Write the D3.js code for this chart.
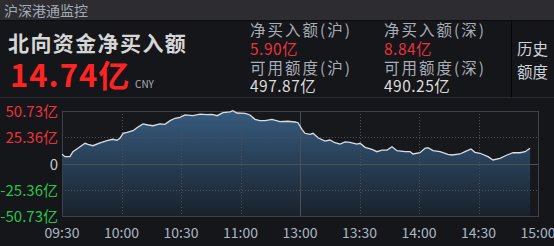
<!DOCTYPE html>
<html>
<head>
<meta charset="utf-8">
<script src="https://cdn.jsdelivr.net/npm/d3@7"></script>
<style>
  html, body { margin: 0; padding: 0; background: #15161a; overflow: hidden; }
  svg { display: block; }
  text { font-family: "Noto Sans CJK SC", "Noto Sans", sans-serif; }
</style>
</head>
<body>
<svg id="chart" width="554" height="246"></svg>
<script>
// 分钟序号（09:30 = 0，午休合并，13:00 = 120）
var minuteIdx = [0, 1.5, 4, 5.5, 8, 11.6, 13.1, 15.6, 19.2, 22.7, 25.7, 27.7, 29.2, 30.8, 32.8, 35.8, 37.8,
  40.8, 43.4, 45.9, 49.4, 51.9, 54.5, 57, 59.5, 62, 66, 69.6, 73.1, 75.6, 78.2, 81.2, 84.7, 86.2, 88.2,
  92.3, 94.8, 97.3, 99.8, 102.4, 105.9, 109.9, 113.9, 117.5, 119, 121, 122.5, 125, 126.6, 129.1, 132.6,
  135.1, 137.6, 140.2, 142.7, 145.2, 148.7, 150.3, 152.8, 156.3, 158.8, 161.3, 163.9, 166.4, 168.9,
  172.9, 175.5, 177, 180.5, 183, 184.5, 187.1, 190.6, 194.6, 196.6, 200.7, 203.2, 206.2, 208.2, 210.8,
  214.8, 217.3, 220.8, 224.4, 227.4, 230.9, 233.5, 236];
// 北向资金净买入（亿）
var netBuy = [8.9, 6.6, 6.6, 11.4, 14.7, 19.5, 18.5, 17.2, 20, 22, 23.4, 22.4, 24.3, 29.2, 30.1, 31.7, 34.6,
  38.2, 37.2, 36.5, 38.2, 37.9, 41.4, 43.7, 44.6, 46.9, 46.2, 47.8, 47.2, 47.5, 46.2, 49.1, 49.8, 51, 48.8,
  48.5, 46.9, 42.7, 41.4, 41.4, 42.7, 40.4, 40.8, 40.1, 39.4, 33, 29.2, 28.2, 29.2, 24.9, 21.7,
  22.7, 20.1, 18.8, 20.8, 20.5, 18.8, 19.5, 15.6, 13.7, 11.4, 13, 13, 16.2, 12.4,
  11.4, 11.4, 9.2, 10.4, 14.7, 15.3, 12.4, 11.4, 8.9, 8.2, 9.2, 11.4, 14, 10.8, 9.9,
  6.6, 3.4, 5, 8.2, 10.4, 10.4, 11.4, 14.74];

var timeTicks = ['09:30', '10:00', '10:30', '11:00', '13:00', '13:30', '14:00', '14:30', '15:00'];
var yTicks = [50.73, 25.36, 0, -25.36, -50.73];
var yLabels = ['50.73亿', '25.36亿', '0', '-25.36亿', '-50.73亿'];

var svg = d3.select('#chart');

// 顶部标题栏
svg.append('rect').attr('x', 0).attr('y', 0).attr('width', 554).attr('height', 20).attr('fill', '#2c2c31');
svg.append('line').attr('x1', 0).attr('x2', 554).attr('y1', 20.5).attr('y2', 20.5).attr('stroke', '#0c0c0e');
svg.append('text').attr('x', 4).attr('y', 16).attr('fill', '#a3abb4').attr('font-size', 14).text('沪深港通监控');

// 汇总信息
svg.append('text').attr('x', 8).attr('y', 51).attr('fill', '#d6d6d6').attr('font-size', 21)
  .attr('font-weight', 'bold').attr('letter-spacing', 1.4).text('北向资金净买入额');
svg.append('text').attr('x', 10).attr('y', 87).attr('fill', '#ff2424').attr('font-size', 31)
  .attr('font-weight', 'bold').attr('font-family', 'DejaVu Sans').attr('letter-spacing', 1).text('14.74亿');
svg.append('text').attr('x', 135).attr('y', 88).attr('fill', '#a8b0b8').attr('font-size', 10).text('CNY');

var info = [
  {x: 250, label: '净买入额(沪)', value: '5.90亿', sub: '可用额度(沪)', quota: '497.87亿'},
  {x: 384, label: '净买入额(深)', value: '8.84亿', sub: '可用额度(深)', quota: '490.25亿'}
];
info.forEach(function(d) {
  svg.append('text').attr('x', d.x).attr('y', 36).attr('fill', '#a8aeb5').attr('font-size', 15.5).attr('letter-spacing', 2).text(d.label);
  svg.append('text').attr('x', d.x).attr('y', 55).attr('fill', '#e8333b').attr('font-size', 15.5).attr('letter-spacing', 0.5).text(d.value);
  svg.append('text').attr('x', d.x).attr('y', 74).attr('fill', '#a8aeb5').attr('font-size', 15.5).attr('letter-spacing', 2).text(d.sub);
  svg.append('text').attr('x', d.x).attr('y', 92).attr('fill', '#dcdcdc').attr('font-size', 15.5).attr('letter-spacing', 0.5).text(d.quota);
});
svg.append('line').attr('x1', 511.5).attr('x2', 511.5).attr('y1', 21).attr('y2', 97).attr('stroke', '#050506');
svg.append('text').attr('x', 517).attr('y', 55).attr('fill', '#cdd3da').attr('font-size', 15.5).text('历史');
svg.append('text').attr('x', 517).attr('y', 78).attr('fill', '#cdd3da').attr('font-size', 15.5).text('额度');
svg.append('line').attr('x1', 0).attr('x2', 554).attr('y1', 97.5).attr('y2', 97.5).attr('stroke', '#2a2c31');

// 分时图
var plotLeft = 62, plotRight = 538, plotTop = 111, plotBottom = 216;
var x = d3.scaleLinear().domain([0, 240]).range([plotLeft, plotRight]);
var y = d3.scaleLinear().domain([-50.73, 50.73]).range([plotBottom, plotTop]);

svg.append('rect').attr('x', plotLeft).attr('y', plotTop).attr('width', plotRight - plotLeft)
  .attr('height', plotBottom - plotTop).attr('fill', '#16181c');

var grad = svg.append('defs').append('linearGradient').attr('id', 'fillGrad')
  .attr('gradientUnits', 'userSpaceOnUse').attr('x1', 0).attr('x2', 0).attr('y1', plotTop).attr('y2', plotBottom);
grad.append('stop').attr('offset', '0%').attr('stop-color', '#365b7e');
grad.append('stop').attr('offset', '100%').attr('stop-color', '#19212b');

var area = d3.area().x(function(d, i) { return x(minuteIdx[i]); }).y0(plotBottom).y1(function(d) { return y(d); });
var line = d3.line().x(function(d, i) { return x(minuteIdx[i]); }).y(function(d) { return y(d); });

svg.append('path').datum(netBuy).attr('d', area).attr('fill', 'url(#fillGrad)');

// 网格
yTicks.forEach(function(v) {
  if (Math.abs(v) === 50.73) return;
  var yy = Math.round(y(v)) + 0.5;
  svg.append('line').attr('x1', plotLeft).attr('x2', plotRight).attr('y1', yy).attr('y2', yy)
    .attr('stroke', '#4a5058').attr('stroke-dasharray', v === 0 ? null : '1,2');
});
timeTicks.forEach(function(t, i) {
  if (i === 0 || i === timeTicks.length - 1) return;
  var xx = Math.round(x(i * 30)) + 0.5;
  svg.append('line').attr('x1', xx).attr('x2', xx).attr('y1', plotTop).attr('y2', plotBottom)
    .attr('stroke', '#4a5058').attr('stroke-dasharray', t === '13:00' ? null : '1,2');
});
svg.append('rect').attr('x', plotLeft + 0.5).attr('y', plotTop + 0.5).attr('width', plotRight - plotLeft)
  .attr('height', plotBottom - plotTop).attr('fill', 'none').attr('stroke', '#3d4148');

svg.append('path').datum(netBuy).attr('d', line).attr('fill', 'none').attr('stroke', '#d9dde2').attr('stroke-width', 1.3);

// 纵轴标签
yTicks.forEach(function(v, i) {
  svg.append('text').attr('x', 58).attr('y', y(v) + 6).attr('text-anchor', 'end').attr('font-size', 15)
    .attr('fill', v > 0 ? '#e8333b' : (v < 0 ? '#2bc24a' : '#c8c8c8')).text(yLabels[i]);
});

// 横轴标签
timeTicks.forEach(function(t, i) {
  svg.append('text').attr('x', x(i * 30)).attr('y', 238).attr('text-anchor', 'middle').attr('font-size', 14)
    .attr('fill', '#aab6c2').text(t);
});
</script>
</body>
</html>
